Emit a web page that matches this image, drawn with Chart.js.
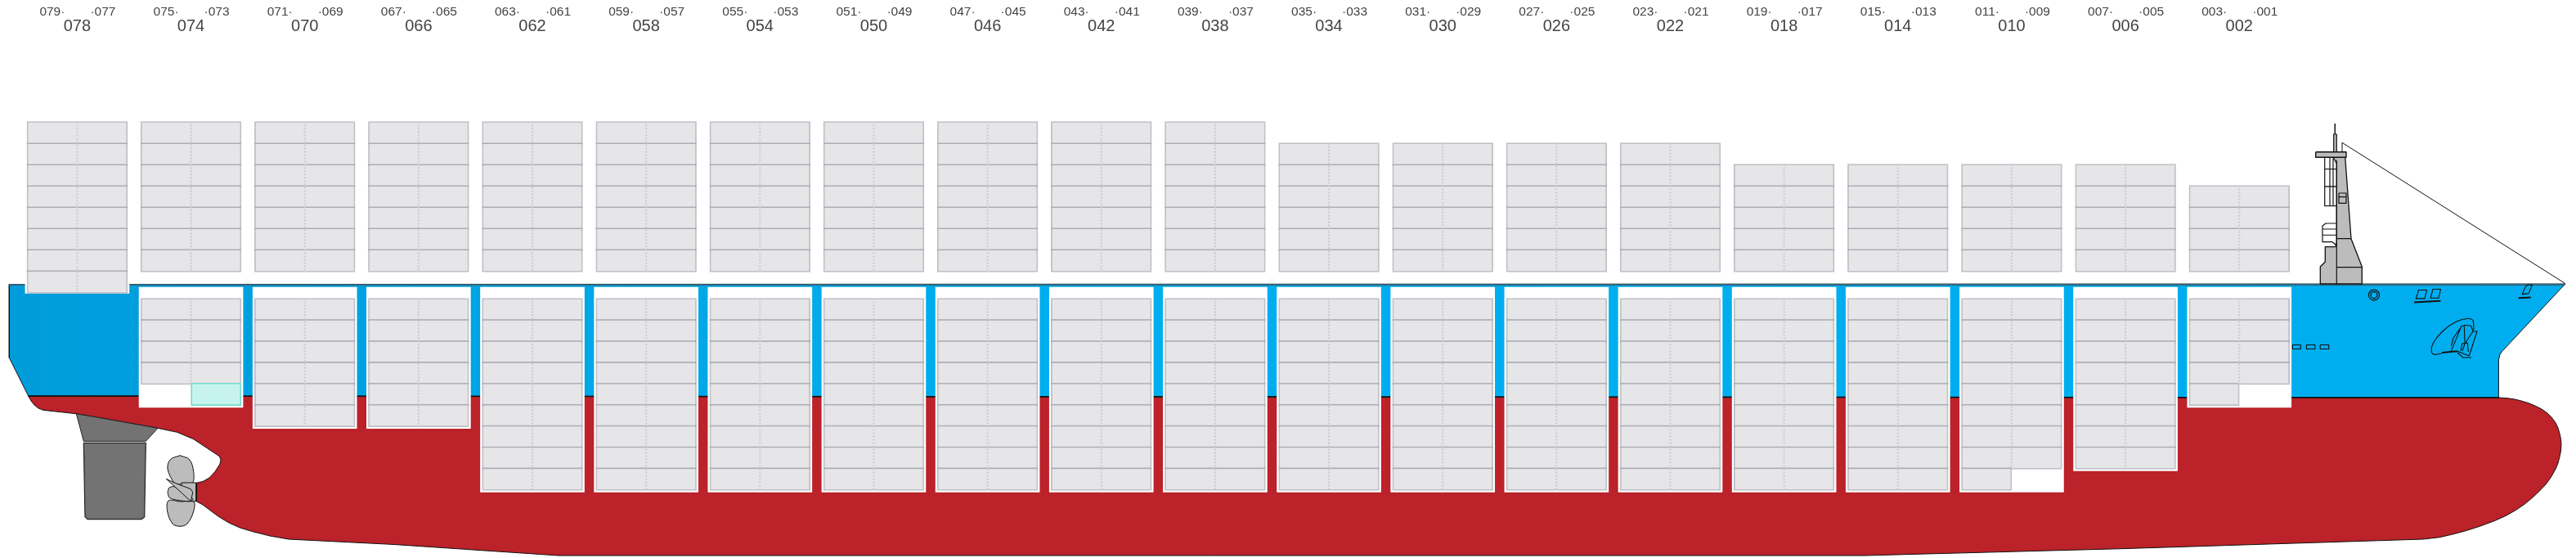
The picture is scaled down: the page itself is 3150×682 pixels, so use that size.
<!DOCTYPE html>
<html>
<head>
<meta charset="utf-8">
<title>Stowage plan</title>
<style>
  html, body { margin: 0; padding: 0; background: #fff; overflow: hidden; }
  canvas { display: block; }
</style>
<script src="https://cdn.jsdelivr.net/npm/chart.js@4/dist/chart.umd.min.js"></script>
</head>
<body>
<canvas id="chart" width="3150" height="682"></canvas>
<script>
// Bays from aft to forward, with the odd row numbers either side of each one
const bayLabels = ["078","074","070","066","062","058","054","050","046","042","038","034","030","026","022","018","014","010","006","002"]
const aftLabels = ["079","075","071","067","063","059","055","051","047","043","039","035","031","027","023","019","015","011","007","003"]
const foreLabels = ["077","073","069","065","061","057","053","049","045","041","037","033","029","025","021","017","013","009","005","001"]

// Tiers per bay
const deckTiers = [8,7,7,7,7,7,7,7,7,7,7,6,6,6,6,5,5,5,5,4]
const holdAftTiers = [0,4,6,6,9,9,9,9,9,9,9,9,9,9,9,9,9,9,8,5]
const holdForeTiers = [0,4,6,6,9,9,9,9,9,9,9,9,9,9,9,9,9,8,8,4]
const reeferBays = ["074"] // one extra teal slot on the forward side, below the stack

// Outlines, in picture units
const hullRed = [[34.7,484],[38,490],[42,495],[47,499],[53,501.3],[93.3,505.7],[130,512],[193,523.3],[216.7,528.3],[236.7,536.7],[268.3,557.7],[270,562],[269,567],[263.3,576],[256,584],[248,588.5],[240,590.3],[240,612.7],[248,617],[266.7,631],[280,639],[293.3,645],[310,650],[330,655],[352.7,659],[482,665.5],[683,679],[2280,679],[2600,670.5],[2963.3,659],[2983.3,656.7],[3000,652.8],[3016.7,648.3],[3033,643],[3050,636.7],[3064,630.5],[3076.7,623.3],[3087,616.2],[3096.7,608.3],[3105.5,600],[3113.3,591.7],[3119.7,582.8],[3125,573.3],[3128,566],[3130,558.3],[3131.5,551],[3132,543.3],[3131.5,536.5],[3130,530],[3128,523],[3125,516.7],[3120.5,510.5],[3115,505],[3108,500],[3100,496],[3092,492.7],[3083.3,490],[3075,488],[3066.7,486.7],[3056,486],[34.7,484]]
const hullBlue = [[11.3,347.5],[11.3,437.3],[34.7,484],[3055.4,486],[3055.4,440],[3057,433],[3060.4,428.6],[3136.8,347],[11.3,347.5]]
const deckEdge = [[11.3,348.2],[3136.8,348.2]]
const rudderHead = [[93.3,505.7],[130,512],[193,523.3],[178.3,539.3],[102.3,539.3],[93.3,505.7]]
const rudderBlade = [[102.3,541.3],[178.3,541.3],[176.7,631.7],[173,634.7],[107,634.7],[104,631.7],[102.3,541.3]]
const propUpper = [[220,556.7],[231.7,561.7],[236.7,576.7],[235,590.7],[220,592],[213,590],[205,573],[208.3,561.7],[220,556.7]]
const propLower = [[220,613],[236.7,613],[236.7,625],[229,640],[220,643.3],[211,640],[204.7,625],[206,612],[220,613]]
const propMiddle = [[205,601.7],[207,596],[214,595],[236,610],[232,612.7],[215,611],[207,608],[205,601.7]]
const propHub = [[222,590],[240,590],[240,612.7],[222,612.7],[222,590]]
const propBlade = [[203.3,585.3],[213.3,590],[233.3,597.7],[235.7,601.7],[233.3,612.7],[203.3,585.3]]

const mastTower = [[2853,192],[2867.7,192],[2875,291.7],[2888.3,326],[2888.3,347],[2837.3,347],[2837.3,326],[2843.3,320],[2843.3,301.7],[2856,301.7],[2857.3,296],[2857.3,200],[2853,192]]
const mastLines = [[2857.3,196],[2857.3,347],[null,null],[2857.3,291.7],[2875,291.7],[null,null],[2857.3,326.7],[2888.3,326.7]]
const mastPlatform = [[2831.7,185.7],[2869,185.7],[2869,192.3],[2831.7,192.3],[2831.7,185.7]]
const mastPole = [[2853.7,185.7],[2853.7,164],[2857.3,164],[2857.3,185.7],[2853.7,185.7]]
const mastAerial = [[2855.3,151],[2855.3,164]]
const mastLadder = [[2842.7,192],[2842.7,251.7],[2857.3,251.7],[null,null],[2849,192],[2849,251.7],[null,null],[2853,192],[2853,251.7],[null,null],[2842.7,206.7],[2857.3,206.7],[null,null],[2842.7,228],[2857.3,228]]
const mastWindow = [[2860,236],[2869,236],[2869,248.3],[2860,248.3],[2860,236],[null,null],[2860,240.7],[2869,240.7]]
const wheelhouse = [[2857.3,273],[2844,273],[2840,276],[2840,295.7],[2852,295.7],[2856,299],[2857.3,301]]
const wheelhouseLines = [[2840,280],[2857.3,280],[null,null],[2840,287.3],[2857.3,287.3]]
const bowRail = [[2864,185],[2864,174.3],[3136.8,346.5]]

const hawseAft = [[2957.5,354.5],[2967.5,354.5],[2965,364.9],[2954.4,364.9],[2957.5,354.5]]
const hawseFore = [[2975,353.5],[2984.5,353.5],[2982,364.3],[2972,364.3],[2975,353.5]]
const hawseSill = [[2952,369.4],[2984.5,367.7]]
const bowHatch = [[3088.5,350],[3091,348.3],[3096.5,348.3],[3092,358.6],[3084.2,359.6],[3088.5,350]]
const bowSill = [[3079.6,364.2],[3094.7,363.5]]
const scuppers = [[2803.5,421.5],[2813.3,421.5],[2813.3,426.5],[2803.5,426.5],[2803.5,421.5],[null,null],[2820.4,421.5],[2830.9,421.5],[2830.9,426.5],[2820.4,426.5],[2820.4,421.5],[null,null],[2837.2,421.5],[2847.7,421.5],[2847.7,426.5],[2837.2,426.5],[2837.2,421.5]]
const anchorPocket = [[2986,432],[2976.7,433.3],[2973.3,430],[2975,420],[2986.7,405],[3003.3,393.3],[3018.3,389.3],[3024,391.7],[3025,403.3]]
const anchorBody = [[2997.3,429.3],[3010,398.3],[3013.3,398.3],[3014,418.3],[null,null],[3010,399],[3000,413],[2997.3,423.3],[null,null],[3013.3,397.3],[3021.7,398.3],[3024,405],[3014,420],[3011,429],[null,null],[3024,405],[3029,405],[3019.3,435],[3005,429.3],[null,null],[3009,429],[3010.7,420],[3017.3,419],[3018.3,430],[null,null],[3005,431],[3012,437],[3022,437]]
const anchorStock = [[2986,431],[3005,429.3]]
const emblemCentre = [[2903,360.6]]

// Layout of the cells
const bayStart = 94.4, bayPitch = 139.15, cellWidth = 61.4
const deckFloor = 330.6, deckTierHeight = 26
const holdRoof = 364.5, holdTierHeight = 25.9
const cellLine = 1.8

const bayX = i => bayStart + bayPitch * i
const cellFill = "#e6e6e8"
const cellEdge = "rgba(160,160,170,0.66)"

function cellBar(x, top, height) {
  return { x, y: [top, top + height + cellLine] }
}

function buildCells() {
  const aft = [], fore = [], odd = [], reefer = [], wells = [], dividers = []
  const aftX = i => bayX(i) - cellWidth / 2
  const foreX = i => bayX(i) + cellWidth / 2
  bayLabels.forEach((bay, i) => {
    const deckTop = i === 0 ? deckFloor + deckTierHeight - deckTiers[i] * deckTierHeight : deckFloor - deckTiers[i] * deckTierHeight
    for (let t = 0; t < deckTiers[i]; t++) {
      const top = deckTop + t * deckTierHeight
      aft.push(cellBar(aftX(i), top, deckTierHeight))
      fore.push(cellBar(foreX(i), top, deckTierHeight))
    }
    dividers.push({ x: bayX(i), y: deckTop }, { x: bayX(i), y: deckTop + deckTiers[i] * deckTierHeight + cellLine }, { x: null, y: null })

    const full = Math.min(holdAftTiers[i], holdForeTiers[i])
    const deepest = Math.max(holdAftTiers[i], holdForeTiers[i])
    const isReefer = reeferBays.includes(bay)
    if (deepest === 0) return
    const wellTiers = isReefer ? deepest + 1 : deepest
    wells.push({ x: bayX(i), y: [351, holdRoof + wellTiers * holdTierHeight + 3.8] })
    for (let t = 0; t < full; t++) {
      const top = holdRoof + t * holdTierHeight
      aft.push(cellBar(aftX(i), top, holdTierHeight))
      fore.push(cellBar(foreX(i), top, holdTierHeight))
    }
    for (let t = full; t < holdAftTiers[i]; t++) {
      odd.push(cellBar(aftX(i), holdRoof + t * holdTierHeight, holdTierHeight))
    }
    for (let t = full; t < holdForeTiers[i]; t++) {
      odd.push(cellBar(foreX(i), holdRoof + t * holdTierHeight, holdTierHeight))
    }
    if (isReefer) reefer.push(cellBar(foreX(i), holdRoof + full * holdTierHeight, holdTierHeight))
    dividers.push({ x: bayX(i), y: holdRoof }, { x: bayX(i), y: holdRoof + full * holdTierHeight + cellLine }, { x: null, y: null })
  })
  return { aft, fore, odd, reefer, wells, dividers }
}

const toPoints = pairs => pairs.map(([x, y]) => ({ x, y }))

function shape(pairs, fill, stroke, width = 1, extra = {}) {
  return {
    type: "line",
    data: toPoints(pairs),
    fill: fill ? "shape" : false,
    backgroundColor: fill || "transparent",
    borderColor: stroke || "transparent",
    borderWidth: stroke ? width : 0,
    borderJoinStyle: "round",
    pointRadius: 0,
    tension: 0,
    ...extra,
  }
}

function bars(data, thickness, backgroundColor, borderColor, borderSkipped) {
  return {
    type: "bar",
    data,
    grouped: false,
    barThickness: thickness,
    backgroundColor,
    borderColor,
    borderWidth: borderColor ? cellLine : 0,
    borderSkipped,
  }
}

// Row numbers and bay numbers along the top
const bayLabelPlugin = {
  id: "bayLabels",
  afterDraw(chart) {
    const { ctx, scales } = chart
    ctx.save()
    ctx.fillStyle = "#444448"
    ctx.textBaseline = "alphabetic"
    bayLabels.forEach((bay, i) => {
      const x = scales.x.getPixelForValue(bayX(i))
      ctx.font = "15.5px 'Liberation Sans'"
      ctx.textAlign = "right"
      ctx.fillText(aftLabels[i] + "·", x - 15, scales.y.getPixelForValue(19))
      ctx.textAlign = "left"
      ctx.fillText("·" + foreLabels[i], x + 16, scales.y.getPixelForValue(19))
      ctx.font = "20px 'Liberation Sans'"
      ctx.textAlign = "center"
      ctx.fillText(bay, x, scales.y.getPixelForValue(38.4))
    })
    ctx.restore()
  },
}

const canvas = document.getElementById("chart")
const blueFade = canvas.getContext("2d").createLinearGradient(0, 0, 1300, 0)
blueFade.addColorStop(0, "#009cda")
blueFade.addColorStop(1, "#00aeef")

const cells = buildCells()
const grey = "#bcbcbc", dark = "#737373", ink = "#111"

// Painted in this order, first at the back
const layers = [
  shape(hullRed, "#bb2229", ink, 1),
  shape(hullBlue, blueFade, ink, 1),
  shape(hullBlue.slice(2, 4), null, ink, 1.6),
  shape(deckEdge, null, "#2f6f8a", 2),
  shape(rudderHead, dark, "#222", 1),
  shape(rudderBlade, dark, "#222", 1.2),
  shape(propUpper, grey, ink, 1, { tension: 0.35 }),
  shape(propLower, grey, ink, 1, { tension: 0.35 }),
  shape(propHub, grey, ink, 1),
  shape(propMiddle, grey, ink, 1, { tension: 0.3 }),
  shape(propBlade, grey, ink, 1),
  shape(mastLadder, "#fff", null),
  shape(mastLadder, null, "#222", 1.3),
  shape(wheelhouse, "#fff", ink, 1.2),
  shape(wheelhouseLines, null, ink, 1),
  shape(mastTower, grey, ink, 1.3),
  shape(mastLines, null, ink, 1.2),
  shape(mastPole, grey, ink, 1.2),
  shape(mastAerial, null, ink, 1),
  shape(mastPlatform, grey, ink, 1.4),
  shape(mastWindow, null, ink, 1.2),
  shape(bowRail, null, ink, 1),
  shape(hawseAft, null, ink, 1.1),
  shape(hawseFore, null, ink, 1.1),
  shape(hawseSill, null, ink, 2),
  shape(bowHatch, null, ink, 1.1),
  shape(bowSill, null, ink, 2),
  shape(scuppers, null, ink, 1.1),
  shape(anchorPocket, null, ink, 1.1, { tension: 0.3 }),
  shape(anchorBody, null, ink, 1.1),
  shape(anchorStock, null, ink, 2),
  shape(emblemCentre, null, null, 1, { pointRadius: 6.5, pointBorderWidth: 1.2, pointBorderColor: ink, pointBackgroundColor: "transparent", showLine: false }),
  shape(emblemCentre, null, null, 1, { pointRadius: 4, pointBorderWidth: 1.2, pointBorderColor: ink, pointBackgroundColor: "transparent", showLine: false }),
  bars([{ x: bayX(0), y: [347, 358.5] }], 127, "#fff"),
  bars(cells.wells, 127, "#fff"),
  bars(cells.aft, cellWidth, cellFill, cellEdge, "right"),
  bars(cells.fore, cellWidth, cellFill, cellEdge, "left"),
  bars(cells.odd, cellWidth, cellFill, cellEdge, false),
  bars(cells.reefer, cellWidth, "#c7f3ee", "#74dccb", false),
  { type: "line", data: cells.dividers, fill: false, borderColor: "#c8c8ce", borderWidth: 2, borderDash: [2, 2], pointRadius: 0 },
]

const datasets = layers.map((d, i) => ({ ...d, order: layers.length - i }))

new Chart(canvas, {
  type: "bar",
  data: { datasets },
  plugins: [bayLabelPlugin],
  options: {
    responsive: false,
    animation: false,
    devicePixelRatio: 1,
    layout: { padding: 0, autoPadding: false },
    plugins: { legend: { display: false }, tooltip: { enabled: false } },
    scales: {
      x: { type: "linear", min: 0, max: 3150, offset: false, display: false },
      y: { type: "linear", min: 0, max: 682, reverse: true, display: false },
    },
  },
})
</script>
</body>
</html>
